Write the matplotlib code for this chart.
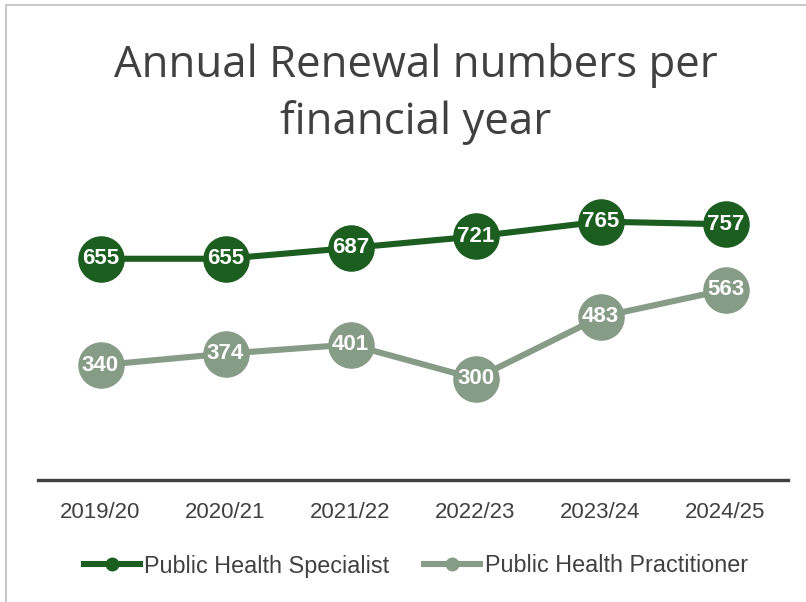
import matplotlib.pyplot as plt
from matplotlib.lines import Line2D

# Data
years = ["2019/20", "2020/21", "2021/22", "2022/23", "2023/24", "2024/25"]
specialist = [655, 655, 687, 721, 765, 757]
practitioner = [340, 374, 401, 300, 483, 563]

dark_green = "#1B5E20"
light_green = "#879C87"
grey_text = "#404040"

fig = plt.figure(figsize=(8.06, 6.02), dpi=100)
ax = fig.add_axes([38 / 806, (602 - 480) / 602, 750 / 806, 304 / 602])

x = range(len(years))
ax.plot(x, specialist, color=dark_green, lw=4.4, marker="o", ms=32.5,
        solid_capstyle="round", zorder=3)
ax.plot(x, practitioner, color=light_green, lw=4.4, marker="o", ms=32.5,
        solid_capstyle="round", zorder=3)

# Data labels inside the markers
for xi, v in zip(x, specialist):
    ax.text(xi, v, str(v), ha="center", va="center", color="white",
            fontsize=16, fontweight="bold", family="Liberation Sans", zorder=4)
for xi, v in zip(x, practitioner):
    ax.text(xi, v, str(v), ha="center", va="center", color="white",
            fontsize=16, fontweight="bold", family="Liberation Sans", zorder=4)

ax.set_xlim(-0.5, len(years) - 0.5)
ax.set_ylim(0, 900)
ax.set_xticks(list(x))
ax.set_xticklabels(years, fontsize=16, color=grey_text, family="Liberation Sans")
ax.tick_params(axis="x", length=0, pad=16)
ax.set_yticks([])
for side in ["top", "right", "left"]:
    ax.spines[side].set_visible(False)
ax.spines["bottom"].set_color(grey_text)
ax.spines["bottom"].set_linewidth(2.4)
ax.patch.set_alpha(0)

# Title
fig.text(416 / 806, 1 - 94 / 602, "Annual Renewal numbers per\nfinancial year",
         ha="center", va="center", fontsize=31.5, color=grey_text,
         family="Open Sans", linespacing=1.33)

# Legend
handles = [
    Line2D([], [], color=dark_green, lw=4.4, marker="o", ms=9),
    Line2D([], [], color=light_green, lw=4.4, marker="o", ms=9),
]
fig.legend(handles, ["Public Health Specialist", "Public Health Practitioner"],
           loc="center", bbox_to_anchor=(416 / 806, 1 - 566 / 602), ncol=2,
           frameon=False, handlelength=2.4, handletextpad=0.2, columnspacing=1.5,
           prop={"family": "Liberation Sans", "size": 16.8}, labelcolor=grey_text)

# Chart border (top and left visible)
fig.add_artist(Line2D([6 / 806, 6 / 806], [0, 1 - 5 / 602], color="#BFBFBF", lw=1.2))
fig.add_artist(Line2D([6 / 806, 1], [1 - 5 / 602, 1 - 5 / 602], color="#BFBFBF", lw=1.2))

fig.savefig("out.png", dpi=100)
